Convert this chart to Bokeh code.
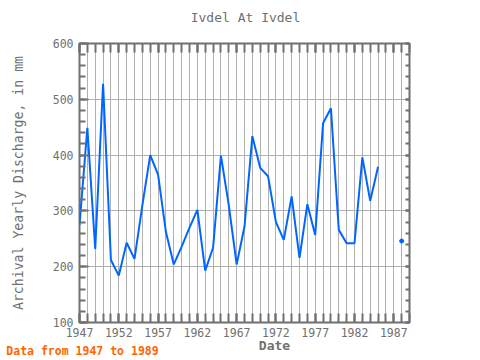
import math
from bokeh.plotting import figure
from bokeh.models import FixedTicker, LinearAxis, Range1d
from bokeh.embed import file_html
from bokeh.resources import INLINE

years = list(range(1947, 1989))
discharge = [275, 449, 232, 528, 212, 184, 243, 214, 310, 400,
             365, 262, 204, 236, 270, 302, 193, 234, 399, 310,
             204, 272, 434, 377, 362, 280, 248, 326, 216, 312,
             257, 457, 484, 266, 242, 242, 396, 318, 379, float("nan"),
             float("nan"), 246]
x_tick_labels = [1947, 1952, 1957, 1962, 1967, 1972, 1977, 1982, 1987]
y_tick_labels = [100, 200, 300, 400, 500, 600]
title_text = "Ivdel At Ivdel"
x_title = "Date"
y_title = "Archival Yearly Discharge, in mm"
note_text = "Data from 1947 to 1989"

FONT = "DejaVu Sans Mono"
GREY = "#707070"

p = figure(width=480, height=360, output_backend="svg", toolbar_location=None,
           x_range=Range1d(1947, 1989), y_range=Range1d(100, 600),
           min_border_left=79, min_border_right=71, min_border_top=43,
           min_border_bottom=38)
p.background_fill_color = "white"
p.border_fill_color = "white"
p.outline_line_color = GREY
p.outline_line_width = 2
p.title.text = ""

all_years = list(range(1947, 1990))
x_ticker = FixedTicker(ticks=x_tick_labels, minor_ticks=all_years)
y_ticker = FixedTicker(ticks=y_tick_labels, minor_ticks=list(range(100, 601, 20)))

p.xgrid.ticker = FixedTicker(ticks=all_years)
p.ygrid.ticker = FixedTicker(ticks=y_tick_labels)
for g in (p.xgrid, p.ygrid):
    g.grid_line_color = "#b0b0b0"
    g.grid_line_width = 1

def style(ax, tin, mtin, labels=True):
    ax.axis_line_color = None
    ax.major_tick_line_color = GREY
    ax.minor_tick_line_color = GREY
    ax.major_tick_line_width = 2
    ax.minor_tick_line_width = 2
    ax.major_tick_in = tin
    ax.major_tick_out = 0
    ax.minor_tick_in = mtin
    ax.minor_tick_out = 0
    if labels:
        ax.major_label_text_font = FONT
        ax.major_label_text_font_size = "11.5px"
        ax.major_label_text_color = GREY
    else:
        ax.major_label_text_color = None
        ax.major_label_standoff = 0

xa = p.xaxis[0]
xa.ticker = x_ticker
style(xa, 9, 9)
xa.major_label_standoff = 5

ya = p.yaxis[0]
ya.ticker = y_ticker
style(ya, 9, 6)
ya.major_label_standoff = 6
ya.axis_label = y_title
ya.axis_label_text_font = FONT
ya.axis_label_text_font_size = "13.2px"
ya.axis_label_text_font_style = "normal"
ya.axis_label_text_color = GREY
ya.axis_label_standoff = 24

top = LinearAxis(ticker=x_ticker)
style(top, 9, 9, labels=False)
p.add_layout(top, "above")
right = LinearAxis(ticker=y_ticker)
style(right, 4, 4, labels=False)
p.add_layout(right, "right")

# pixel-position range used only to place the free texts
p.extra_x_ranges = {"px": Range1d(79, 409)}

def text_axis(pos, text, color, size, standoff, place, weight="bold"):
    ax = LinearAxis(x_range_name="px", ticker=FixedTicker(ticks=[pos]))
    ax.major_label_overrides = {pos: text}
    ax.axis_line_color = None
    ax.major_tick_line_color = None
    ax.minor_tick_line_color = None
    ax.major_tick_out = 0
    ax.major_tick_in = 0
    ax.major_label_text_font = FONT
    ax.major_label_text_font_size = size
    ax.major_label_text_font_style = weight
    ax.major_label_text_color = color
    ax.major_label_standoff = standoff
    p.add_layout(ax, place)

text_axis(245, title_text, GREY, "13px", 19, "above", weight="normal")
text_axis(274, x_title, GREY, "13px", -2, "below")
text_axis(82, note_text, "#ff6600", "11.5px", -12, "below")

p.line(years, discharge, line_color="#0066ff", line_width=2)
iso_x, iso_y = [], []
for i, v in enumerate(discharge):
    if math.isnan(v):
        continue
    prev_nan = i == 0 or math.isnan(discharge[i - 1])
    next_nan = i == len(discharge) - 1 or math.isnan(discharge[i + 1])
    if prev_nan and next_nan:
        iso_x.append(years[i]); iso_y.append(v)
p.scatter(iso_x, iso_y, size=4, color="#0066ff")

open("out.html", "w").write(file_html(p, INLINE))
